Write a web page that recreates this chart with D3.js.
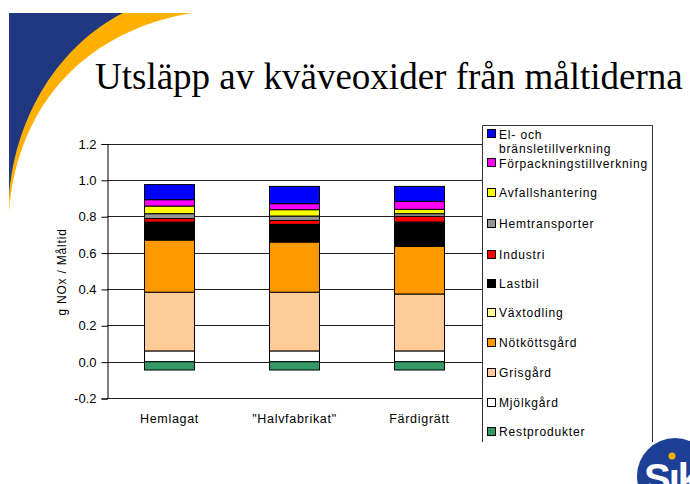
<!DOCTYPE html>
<html>
<head>
<meta charset="utf-8">
<script src="https://cdn.jsdelivr.net/npm/d3@7"></script>
<style>
  html, body { margin: 0; padding: 0; background: #fff; }
  svg { display: block; }
  text { font-family: "Liberation Sans", Arial, sans-serif; fill: #000; }
</style>
</head>
<body>
<div id="chart"></div>
<script>
// Meals compared
const categories = ["Hemlagat", "\"Halvfabrikat\"", "Färdigrätt"];

// Emission sources, bottom of the stack first
const sources = ["Restprodukter", "Mjölkgård", "Grisgård", "Nötköttsgård", "Växtodling",
                 "Lastbil", "Industri", "Hemtransporter", "Avfallshantering",
                 "Förpackningstillverkning", "El- och bränsletillverkning"];

// g NOx per meal, one value per category
const restprodukter   = [-0.046, -0.046, -0.046];
const mjolkgard       = [0.059, 0.059, 0.059];
const grisgard        = [0.323, 0.323, 0.313];
const notkottsgard    = [0.287, 0.276, 0.262];
const vaxtodling      = [0.002, 0.002, 0.002];
const lastbil         = [0.097, 0.095, 0.132];
const industri        = [0.019, 0.022, 0.031];
const hemtransporter  = [0.027, 0.024, 0.015];
const avfallshantering = [0.042, 0.035, 0.024];
const forpackning     = [0.035, 0.033, 0.044];
const elBransle       = [0.083, 0.095, 0.082];

const seriesValues = [restprodukter, mjolkgard, grisgard, notkottsgard, vaxtodling,
                      lastbil, industri, hemtransporter, avfallshantering,
                      forpackning, elBransle];

const colors = ["#339966", "#FFFFFF", "#FFCC99", "#FF9900", "#FFFF99",
                "#000000", "#FF0000", "#969696", "#FFFF00", "#FF00FF", "#0000FF"];

const yTicks = [-0.2, 0.0, 0.2, 0.4, 0.6, 0.8, 1.0, 1.2];

const W = 690, H = 484;
const svg = d3.select("#chart").append("svg").attr("width", W).attr("height", H);

// Corner swoosh
svg.append("path")
  .attr("d", "M9,13 L192,13 C90,30 18,100 9,212 Z")
  .attr("fill", "#FDB000");
svg.append("path")
  .attr("d", "M9,13 L123,13 C60,45 15,115 9,197 Z")
  .attr("fill", "#203880");

// Title
svg.append("text")
  .attr("x", 95).attr("y", 89)
  .style("font-family", "'Liberation Serif', 'Times New Roman', serif")
  .style("font-size", "37px")
  .text("Utsläpp av kväveoxider från måltiderna");

// Scales
const plotLeft = 107, plotRight = 482;
const x = d3.scaleBand().domain(categories).range([plotLeft, plotRight])
  .paddingInner(0.6).paddingOuter(0.3);
const y = d3.scaleLinear().domain([-0.2, 1.2]).range([398, 143.5]);

// Gridlines
svg.append("g").selectAll("line").data(yTicks).join("line")
  .attr("x1", plotLeft).attr("x2", plotRight)
  .attr("y1", d => Math.round(y(d)) + 0.5).attr("y2", d => Math.round(y(d)) + 0.5)
  .attr("stroke", "#222").attr("stroke-width", 1);

// Y axis
const yAxis = d3.axisLeft(y).tickValues(yTicks).tickFormat(d3.format(".1f")).tickSize(6).tickPadding(5);
const gy = svg.append("g").attr("transform", `translate(${plotLeft + 0.5},0.5)`).call(yAxis);
gy.select(".domain").attr("stroke", "#000");
gy.selectAll(".tick line").attr("stroke", "#000");
gy.selectAll(".tick text").style("font-size", "13px").style("font-family", "'Liberation Sans', Arial, sans-serif")
  .text(d => d3.format(".1f")(d).replace("−", "-"));

// Y axis title
svg.append("text")
  .attr("transform", "translate(66,272) rotate(-90)")
  .attr("text-anchor", "middle")
  .style("font-size", "12px").style("letter-spacing", "0.8px")
  .text("g NOx / Måltid");

// Stacked bars
const rows = categories.map((c, i) => {
  const r = { category: c };
  sources.forEach((s, j) => { r[s] = seriesValues[j][i]; });
  return r;
});
const stacked = d3.stack().keys(sources).offset(d3.stackOffsetDiverging)(rows);

const layers = svg.append("g").selectAll("g").data(stacked).join("g")
  .attr("fill", (d, i) => colors[i]);
layers.selectAll("rect").data(d => d).join("rect")
  .attr("x", d => x(d.data.category))
  .attr("width", x.bandwidth())
  .attr("y", d => y(Math.max(d[0], d[1])))
  .attr("height", d => Math.abs(y(d[0]) - y(d[1])))
  .attr("stroke", "#000").attr("stroke-width", 1);

// Category labels
svg.append("g").selectAll("text").data(categories).join("text")
  .attr("x", d => x(d) + x.bandwidth() / 2)
  .attr("y", 423)
  .attr("text-anchor", "middle")
  .style("font-size", "12.5px").style("letter-spacing", "0.7px")
  .text(d => d);

// Legend
const legendX = 482.5, legendTop = 125.5, legendBottom = 442, legendRight = 652.5;
svg.append("path")
  .attr("d", `M${legendX},${legendBottom} L${legendX},${legendTop} L${legendRight},${legendTop} L${legendRight},${legendBottom}`)
  .attr("fill", "none").attr("stroke", "#333").attr("stroke-width", 1);

const legendItems = sources.slice().reverse();
const legendColors = colors.slice().reverse();
const itemY = [134, 163, 193, 224, 255, 284, 313, 343, 373, 403, 432];
const lg = svg.append("g");
legendItems.forEach((name, i) => {
  const cy = itemY[i];
  lg.append("rect")
    .attr("x", 487.5).attr("y", cy - 4.5).attr("width", 8).attr("height", 8)
    .attr("fill", legendColors[i]).attr("stroke", "#000").attr("stroke-width", 1);
  if (i === 0) {
    lg.append("text").attr("x", 499).attr("y", cy + 4.5)
      .style("font-size", "12px").style("letter-spacing", "0.85px").text("El- och");
    lg.append("text").attr("x", 499).attr("y", cy + 19)
      .style("font-size", "12px").style("letter-spacing", "0.85px").text("bränsletillverkning");
  } else {
    lg.append("text").attr("x", 499).attr("y", cy + (i === 1 ? 5 : 4))
      .style("font-size", "12px").style("letter-spacing", "0.85px").text(name);
  }
});

// Logo
const logo = svg.append("g");
logo.append("circle").attr("cx", 675).attr("cy", 476).attr("r", 38).attr("fill", "#1E3F96");
logo.append("text").attr("x", 644).attr("y", 492)
  .style("font-size", "40px").style("font-weight", "bold").style("letter-spacing", "-2px")
  .style("fill", "#fff").text("Sık");
logo.append("circle").attr("cx", 672).attr("cy", 456).attr("r", 3.5).attr("fill", "#FDB000");
</script>
</body>
</html>
